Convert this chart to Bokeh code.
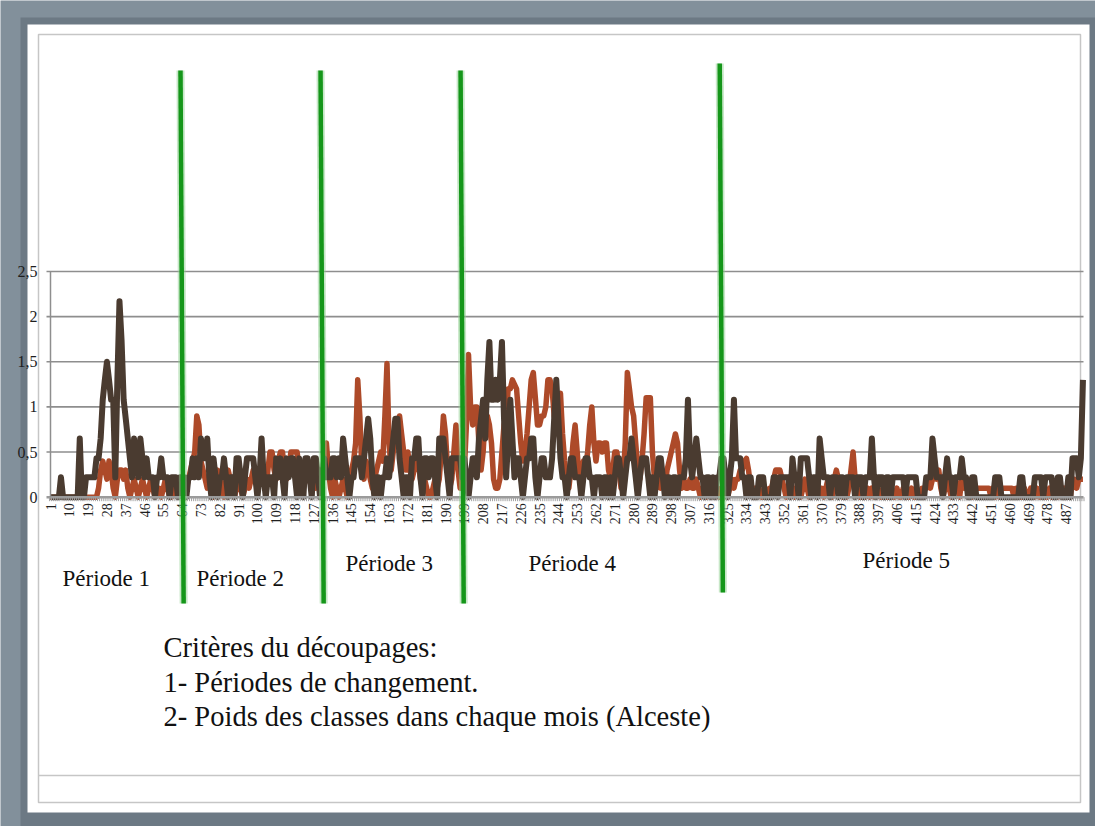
import math
from bokeh.plotting import figure
from bokeh.models import Range1d
from bokeh.core.properties import value
from bokeh.embed import file_html
from bokeh.resources import INLINE

# ---------------- data ----------------
dark_p1 = [0,0,0,0,0,0.22,0,0,0,0,0,0,0,0,0.65,0,0,0.22,0.22,0.22,0.22,0.22,0.43,0.43,
           0.65,1.08,1.3,1.5,1.3,1.08,1.08,0.22,1.3,2.17,1.74,1.08,0.87,0.65,0.43,0.22,
           0.65,0.43,0.22,0.65,0.43,0.22,0.43,0.22,0.22,0.22,0,0.22,0.22,0.43,0.22,0.22,
           0.22,0,0.22,0.22,0.22,0,0.22]
rust_p1 = [0,0,0,0,0,0,0,0,0,0,0,0,0,0,0,0,0,0,0,0,0,0,0,0.1,
           0.3,0.4,0.3,0.2,0.4,0.3,0.1,0,0.2,0.3,0.3,0.2,0.3,0.1,0,0.1,
           0.2,0.1,0,0.1,0.2,0.1,0,0.1,0.2,0.1,0,0.1,0.1,0,0.1,0.2,0.1,0,0,0.1,0.1,0,0.1]

dark_p2 = [0.22,0.22,0,0.22,0.22,0.43,0.22,0.43,0.22,0.65,0.43,0.43,0.65,0.22,0,0.43,
           0.22,0,0.22,0.22,0.43,0.22,0,0.22,0.22,0,0.43,0.43,0.22,0,0.22,0.43,0.43,
           0.43,0.43,0.22,0,0.22,0.65,0.22,0,0.22,0.22,0.22,0,0.43,0.22,0.43,0.22,0,
           0.43,0.22,0.43,0.43,0.22,0,0.43,0.22,0,0.43,0.43,0.22,0,0.43,0.43,0.22,0]
rust_p2 = [0.1,0,0.1,0.2,0.3,0.4,0.5,0.9,0.8,0.4,0.3,0.2,0.1,0.2,0.1,0,0.1,0.3,0.2,
           0.1,0,0.2,0.3,0.2,0.1,0,0.1,0.2,0.1,0,0.1,0.2,0.1,0.2,0.3,0.2,0.1,0.2,0.3,
           0.2,0.1,0.3,0.5,0.5,0.3,0.2,0.4,0.5,0.5,0.3,0.2,0.3,0.5,0.5,0.5,0.5,0.3,
           0.2,0.1,0.2,0.3,0.2,0.1,0.2,0.1,0.2,0.3]

dark_p3 = [0.22,0.43,0.22,0.22,0.22,0.43,0.43,0.22,0.43,0.22,0.65,0.43,0.22,0,0.22,
           0.22,0.43,0.43,0.43,0.22,0.43,0.65,0.87,0.65,0.22,0,0.22,0.22,0,0.22,0.22,
           0.43,0.22,0.43,0.65,0.87,0.87,0.43,0.22,0,0.22,0.22,0,0.43,0.43,0.65,0.65,
           0.22,0,0.43,0.43,0.22,0.43,0.43,0.22,0,0.65,0.65,0.65,0.43,0.22,0,0.43,
           0.43,0.43,0.43,0.43,0.22]
rust_p3 = [0.2,0.4,0.6,0.3,0.1,0,0.2,0.1,0,0.1,0.2,0.1,0,0.2,0.3,0.4,0.6,1.3,0.9,
           0.3,0.2,0.4,0.3,0.2,0.1,0.2,0.3,0.4,0.5,0.4,0.9,1.48,0.6,0.3,0.5,0.7,0.8,
           0.9,0.7,0.5,0.3,0.5,0.3,0.2,0.3,0.5,0.4,0.2,0.1,0.2,0.1,0,0,0.1,0.2,0.1,
           0.2,0.5,0.9,0.7,0.3,0.1,0.2,0.5,0.8,0.3,0.1,0.2]

dark_p4 = [0.43,0.22,0,0.22,0.43,0.43,0.22,0.65,0.87,1.08,0.65,1.3,1.72,1.08,1.08,
           1.3,1.08,1.3,1.72,0.87,0.22,0.65,1.08,0.65,0.22,0.43,0.43,0.22,0,0.22,
           0.43,0.43,0.65,0.65,0.22,0,0.22,0.43,0.43,0.22,0.22,0.22,0.43,0.87,1.3,
           0.87,0.43,0.22,0.22,0,0.22,0.43,0.43,0.22,0.22,0.22,0,0.22,0.43,0.43,0.22,
           0.22,0,0.22,0.22,0.22,0,0.22,0.22,0,0.22,0,0.22,0.43,0.43,0.22,0,0.22,
           0.43,0.43,0.65,0.43,0.22,0,0.22,0.43,0.43,0.43,0.22,0,0.22,0,0.22,0.43,
           0.43,0.22,0,0.22,0.22,0,0.22,0.22,0,0.22,0.22,0.22,0.43,1.08,0.43,0.22,
           0.43,0.65,0.43,0.22,0.22,0,0.22,0.22,0,0.22,0,0.22,0.22]
rust_p4 = [0.3,0.8,1.58,1.0,0.8,1.0,1.0,0.6,0.3,0.5,0.9,0.9,0.8,0.6,0.2,0.1,0.1,
           0.2,0.5,0.8,0.9,1.2,1.2,1.3,1.25,1.2,0.9,0.6,0.4,0.5,0.7,1.0,1.3,1.38,
           1.1,0.8,0.8,0.9,0.9,1.0,1.3,1.3,1.2,0.9,0.8,0.9,1.15,0.7,0.4,0.2,0.1,0.3,
           0.6,0.8,0.5,0.2,0.3,0.4,0.3,0.5,0.8,1.0,0.6,0.4,0.6,0.6,0.5,0.6,0.6,0.3,
           0.2,0.3,0.5,0.5,0.3,0.1,0.2,0.6,1.38,1.2,1.0,0.9,0.6,0.3,0.2,0.4,0.7,1.1,
           1.1,1.1,0.5,0.2,0.1,0.2,0.1,0.2,0.1,0.3,0.4,0.5,0.6,0.7,0.6,0.3,0.1,0.2,
           0.1,0.1,0.2,0.1,0.1,0.2,0.1,0,0.1,0.1,0,0.1,0,0.1,0,0.1,0]

dark_p5 = [0.43,0.43,0.22,0,0.22,0.43,1.08,0.43,0.43,0.43,0.22,0.22,0,0.22,0.22,0,
           0,0,0.22,0.22,0.22,0,0,0,0,0.22,0.22,0,0.22,0.22,0.22,0.22,0.22,0,0.43,
           0.22,0.22,0,0.43,0.43,0.43,0.43,0.22,0,0.22,0.22,0,0.65,0.43,0.22,0.22,
           0.22,0,0.22,0.22,0.22,0,0.22,0.22,0,0.22,0.22,0.22,0.22,0,0.22,0.22,0.22,
           0,0.22,0.22,0.22,0.65,0.22,0,0.22,0.22,0.22,0,0.22,0.22,0,0.22,0.22,0.22,
           0.22,0.22,0.22,0,0.22,0.22,0.22,0.22,0.22,0,0,0,0,0.22,0.22,0.22,0.65,
           0.43,0.22,0.22,0.22,0,0.22,0.43,0.22,0.22,0,0.22,0.22,0.22,0.43,0.22,0.22,
           0,0,0.22,0.22,0,0,0,0,0,0,0,0,0,0.22,0.22,0.22,0,0,0,0,0,0,0,0,0,0.22,
           0.22,0,0,0,0,0,0.22,0.22,0.22,0.22,0,0.22,0.22,0.22,0.22,0,0,0.22,0.22,0,
           0,0,0.22,0,0.43,0.43,0.43,0.22,0.43,1.3]
rust_p5 = [0.1,0,0.1,0,0.1,0.2,0.1,0.2,0.2,0.3,0.3,0.4,0.43,0.3,0.1,0.1,0.1,0.1,
           0.1,0,0,0,0,0.1,0.1,0.2,0.3,0.3,0.3,0.2,0.1,0,0.1,0.2,0.1,0,0.1,0.1,0,
           0.1,0.2,0.1,0,0.1,0.2,0.1,0,0.1,0.1,0,0.1,0.2,0.1,0,0.2,0.3,0.2,0.1,0,
           0.1,0,0.1,0.3,0.5,0.2,0.1,0,0,0.1,0,0.1,0,0.1,0,0,0.1,0,0,0.1,0,0,0.1,0,
           0,0.1,0,0,0.1,0,0,0,0.1,0,0,0,0,0.1,0.1,0.1,0.2,0.1,0.2,0.3,0.2,0.3,0.1,
           0,0.1,0.2,0.1,0,0.1,0.2,0.1,0,0.2,0.1,0.1,0.2,0.1,0,0.1,0.1,0.1,0.1,0.1,
           0.1,0.1,0.1,0,0.1,0,0.1,0,0.1,0.1,0.1,0.1,0.1,0.1,0,0.1,0.1,0,0,0.1,0,0,
           0.1,0,0,0.1,0,0,0.1,0,0,0.1,0,0.1,0,0,0.1,0,0.1,0,0.1,0,0.2,0.2,0.1,0.2,
           0.2,0.2]

dark_series = dark_p1 + dark_p2 + dark_p3 + dark_p4 + dark_p5
rust_series = rust_p1 + rust_p2 + rust_p3 + rust_p4 + rust_p5
months = list(range(1, len(dark_series) + 1))
assert len(dark_series) == 495, len(dark_series)
assert len(rust_series) == 495, len(rust_series)

x_tick_labels = [str(m) for m in range(1, 496, 9)]
y_ticks = [0, 0.5, 1, 1.5, 2, 2.5]
y_tick_labels = ["0", "0,5", "1", "1,5", "2", "2,5"]
period_breaks = [63.5, 130.5, 197.5, 321.5]
period_names = ["Période 1", "Période 2", "Période 3", "Période 4", "Période 5"]
criteria_lines = ["Critères du découpages:",
                  "1- Périodes de changement.",
                  "2- Poids des classes  dans chaque mois (Alceste)"]

# ---------------- layout constants (page pixels) ----------------
W, H = 1095, 826
FL, FT = 0, 0
X0_PX, CAT_PX = 50, 2.09   # pixel of month 1, pixels per month
Y0_PX, UNIT_PX = 496.7, 90.3

SERIF = value("Liberation Serif")
DARK = "#4a3b30"
RUST = "#ad4a29"
GRID = "#8e8e8e"

p = figure(width=W, height=H, output_backend="svg", toolbar_location=None,
           x_range=Range1d(1 + (FL - X0_PX) / CAT_PX, 1 + (FL + W - X0_PX) / CAT_PX),
           y_range=Range1d((Y0_PX - (FT + H)) / UNIT_PX, (Y0_PX - FT) / UNIT_PX),
           x_axis_location=None, y_axis_location=None,
           min_border=0, min_border_left=0, min_border_right=0,
           min_border_top=0, min_border_bottom=0)
p.grid.visible = False
p.extra_x_ranges = {"px": Range1d(FL, FL + W)}
p.extra_y_ranges = {"px": Range1d(FT + H, FT)}
p.outline_line_color = None
p.background_fill_color = "#82909b"
p.border_fill_color = "#82909b"

# window frame decoration (page pixel space)
p.quad(left=[20], right=[1095], top=[17], bottom=[826], fill_color="#6c7984",
       line_color=None, x_range_name="px", y_range_name="px")
p.quad(left=[27], right=[1089], top=[24], bottom=[812], fill_color="white",
       line_color=None, x_range_name="px", y_range_name="px")
p.quad(left=[38], right=[1080], top=[34], bottom=[802], fill_color="white",
       line_color="#c6c6c6", line_width=1.5, x_range_name="px", y_range_name="px")
p.segment(x0=[38], x1=[1080], y0=[775], y1=[775], line_color="#c6c6c6",
          line_width=1.5, x_range_name="px", y_range_name="px")

# horizontal grid lines
grid_vals = [t for t in y_ticks if t > 0]
p.segment(x0=[46] * len(grid_vals), x1=[1083] * len(grid_vals),
          y0=grid_vals, y1=grid_vals, line_color=GRID, line_width=1.6,
          x_range_name="px")

# series
p.line(months, rust_series, line_color=RUST, line_width=5.5, line_join="round")
p.line(months, dark_series, line_color=DARK, line_width=6, line_join="round")

# category axis (baseline + ticks)
p.segment(x0=[46], x1=[1083], y0=[0], y1=[0], line_color="#9a9a9a",
          line_width=2.5, x_range_name="px")
tick_x = [m - 0.5 for m in months] + [months[-1] + 0.5]
p.segment(x0=tick_x, x1=tick_x, y0=[0] * len(tick_x),
          y1=[-4 / UNIT_PX] * len(tick_x), line_color="#a0a0a0", line_width=1)
# value axis
p.segment(x0=[1], x1=[1], y0=[0], y1=[y_ticks[-1]], line_color=GRID, line_width=1.5)

p.text(x=[int(s) for s in x_tick_labels], y=[0] * len(x_tick_labels),
       text=x_tick_labels, angle=math.pi / 2, text_align="right",
       text_baseline="middle", y_offset=6, text_font=SERIF,
       text_font_size="14px", text_color="#1e1e1e")
p.text(x=[1] * len(y_ticks), y=y_ticks, text=y_tick_labels, x_offset=-13,
       text_align="right", text_baseline="middle", text_font=SERIF,
       text_font_size="16px", text_color="#1e1e1e")

# period labels and criteria
p.text(x=[62, 196, 345, 528, 862], y=[578, 578, 563, 563, 560], text=period_names,
       text_align="left", text_baseline="middle", text_font=SERIF,
       text_font_size="23px", text_color="#111111",
       x_range_name="px", y_range_name="px")
p.text(x=[163] * 3, y=[647, 682, 716], text=criteria_lines, text_align="left",
       text_baseline="middle", text_font=SERIF, text_font_size="28.5px",
       text_color="#111111", x_range_name="px", y_range_name="px")

# period separators
top_v = [(Y0_PX - 70) / UNIT_PX] * 3 + [(Y0_PX - 63) / UNIT_PX]
bot_v = [(Y0_PX - 603) / UNIT_PX] * 3 + [(Y0_PX - 592) / UNIT_PX]
x_top = [b - 0.3 for b in period_breaks]
x_bot = [b + 1.2 for b in period_breaks]
p.segment(x0=x_top, x1=x_bot, y0=top_v, y1=bot_v, line_color="#8fd08f",
          line_width=8, line_alpha=0.5)
p.segment(x0=x_top, x1=x_bot, y0=top_v, y1=bot_v, line_color="#15961a",
          line_width=4.5)

open("out.html", "w").write(file_html(p, INLINE))
